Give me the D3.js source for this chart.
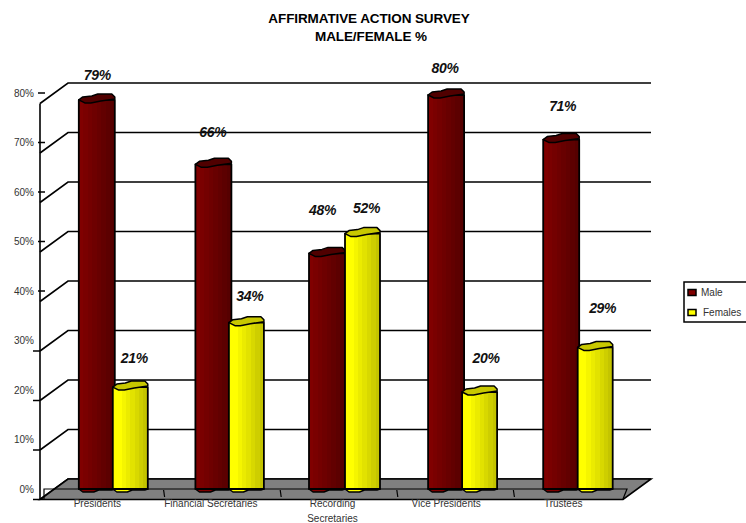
<!DOCTYPE html>
<html><head><meta charset="utf-8">
<script src="https://cdn.jsdelivr.net/npm/d3@7"></script>
<style>html,body{margin:0;background:#fff}svg{display:block}text{font-family:"Liberation Sans",Arial,sans-serif}</style>
</head><body><svg id="c" width="746" height="523"></svg>
<script>
const categories=["Presidents","Financial Secretaries","Recording|Secretaries","Vice Presidents","Trustees"];
const male=[79,66,48,80,71];
const females=[21,34,52,20,29];
const ticks=[0,10,20,30,40,50,60,70,80];
const seriesNames=["Male","Females"];
const maleLabelAt=[82.6,71.1,55.3,84.1,76.4];
const femaleLabelAt=[25.5,38,55.7,25.5,35.6];

const svg=d3.select("#c");
const y=d3.scaleLinear().domain([0,80]).range([489,93]);
const x=d3.scaleBand().domain(categories).range([44,627]);
const defs=svg.append("defs");
function grad(id,stops){const g=defs.append("linearGradient").attr("id",id);
 const n=stops.length;stops.forEach((c,i)=>{g.append("stop").attr("offset",i/n).attr("stop-color",c);g.append("stop").attr("offset",(i+1)/n).attr("stop-color",c);});}
grad("gm",d3.range(8).map(i=>d3.interpolateRgb("#800000","#560000")(i/7)));
grad("gf",d3.range(8).map(i=>d3.interpolateRgb("#ffff00","#c4c400")(Math.max(0,i-1)/6)));

const ink="#000";
// title
svg.append("text").attr("x",369).attr("y",23).attr("text-anchor","middle").attr("font-size",13.5).attr("font-weight",700).attr("letter-spacing",-0.1).text("AFFIRMATIVE ACTION SURVEY");
svg.append("text").attr("x",371).attr("y",41).attr("text-anchor","middle").attr("font-size",13.5).attr("font-weight",700).attr("letter-spacing",-0.1).text("MALE/FEMALE %");
// walls
const gG=svg.append("g").attr("fill","none").attr("stroke",ink).attr("stroke-width",1.6);
ticks.forEach(t=>{const yy=y(t), low=t<40, ty=low?yy+10.5:yy, x0=low?33:38;
 gG.append("path").attr("d",`M40,${yy+10.5}L68,${yy-10}H651`);
 svg.append("line").attr("x1",x0).attr("x2",x0+7).attr("y1",ty).attr("y2",ty).attr("stroke",ink).attr("stroke-width",1.5);
 svg.append("text").attr("x",34).attr("y",yy+3.5).attr("text-anchor","end").attr("font-size",10).attr("fill","#333").text(t+"%");
});
gG.append("line").attr("x1",40).attr("x2",40).attr("y1",y(80)+10.5).attr("y2",y(0)+10.5);
// floor
const fy=y(0);
svg.append("path").attr("d",`M40,${fy+10.5}L68,${fy-10}H651L623,${fy+10.5}Z`).attr("fill","#808080").attr("stroke",ink).attr("stroke-width",1.6);
svg.append("path").attr("d",`M44,${fy+10}V${fy}H627L623,${fy+10}`).attr("fill","none").attr("stroke",ink).attr("stroke-width",1.2);
categories.slice(1).forEach(c=>{svg.append("line").attr("x1",x(c)+3).attr("x2",x(c)+4).attr("y1",fy+1).attr("y2",fy+8).attr("stroke",ink).attr("stroke-width",1.2);});
// bars
function cyl(cx,w,v,fill,top){
 const g=svg.append("g").attr("stroke-linejoin","round"),l=cx-w/2,r=cx+w/2,t=y(v)+2,b=y(0);
 g.append("path").attr("d",`M${l},${b}L${l+4},${b+3}H${cx-3}L${cx+2},${b+1}H${r-3}L${r},${b}Z`)
  .attr("fill",top==="#500000"?"#800000":"#ffff00").attr("stroke",ink).attr("stroke-width",1.4);
 g.append("path").attr("d",`M${l},${t}V${b}H${r}V${t}Z`)
  .attr("fill",`url(#${fill})`).attr("stroke",ink).attr("stroke-width",1.8);
 g.append("path").attr("d",`M${l},${t}L${l+4},${t-3}L${cx-5},${t-4}L${cx+1},${t-6}H${r-3}L${r},${t-3}V${t-1}L${cx+4},${t+1}L${cx-6},${t+3}H${l+6}Z`)
  .attr("fill",top).attr("stroke",ink).attr("stroke-width",1.5);
}
const dxM=[-5.5,-5.5,-8.5,-6,-7.5], dxF=[28,27.5,27,27.5,26.5];
categories.forEach((c,i)=>{const cx=x(c)+x.bandwidth()/2;
 cyl(cx+dxM[i],36,male[i],"gm","#500000");
});
categories.forEach((c,i)=>{const cx=x(c)+x.bandwidth()/2;
 cyl(cx+dxF[i],35,females[i],"gf","#c8c800");
});
// value labels
const labelStyle=s=>s.attr("font-size",14).attr("font-weight",700).attr("font-style","italic").attr("text-anchor","middle").attr("fill","#111").attr("letter-spacing",-0.3);
const ldxM=[-5,-6,-13,-7,-6],ldxF=[32,31,31,34,34],catDx=[-5,-8,-3,-6,-5.5];
categories.forEach((c,i)=>{const cx=x(c)+x.bandwidth()/2;
 labelStyle(svg.append("text")).attr("x",cx+ldxM[i]).attr("y",y(maleLabelAt[i])).text(male[i]+"%");
 labelStyle(svg.append("text")).attr("x",cx+ldxF[i]).attr("y",y(femaleLabelAt[i])).text(females[i]+"%");
 c.split("|").forEach((s,j)=>svg.append("text").attr("x",cx+catDx[i]).attr("y",507+j*15).attr("text-anchor","middle").attr("font-size",10).attr("fill","#333").text(s));
});
// legend
svg.append("rect").attr("x",684).attr("y",282).attr("width",70).attr("height",40).attr("fill","#fff").attr("stroke",ink).attr("stroke-width",1.5);
seriesNames.forEach((n,i)=>{const yy=292.5+i*20;
 svg.append("rect").attr("x",688).attr("y",yy-3).attr("width",8).attr("height",6).attr("fill",i?"#ffff00":"#800000").attr("stroke",ink).attr("stroke-width",1.5);
 svg.append("text").attr("x",i?703:701).attr("y",yy+3).attr("font-size",10).attr("fill","#333").text(n);
});
</script></body></html>
